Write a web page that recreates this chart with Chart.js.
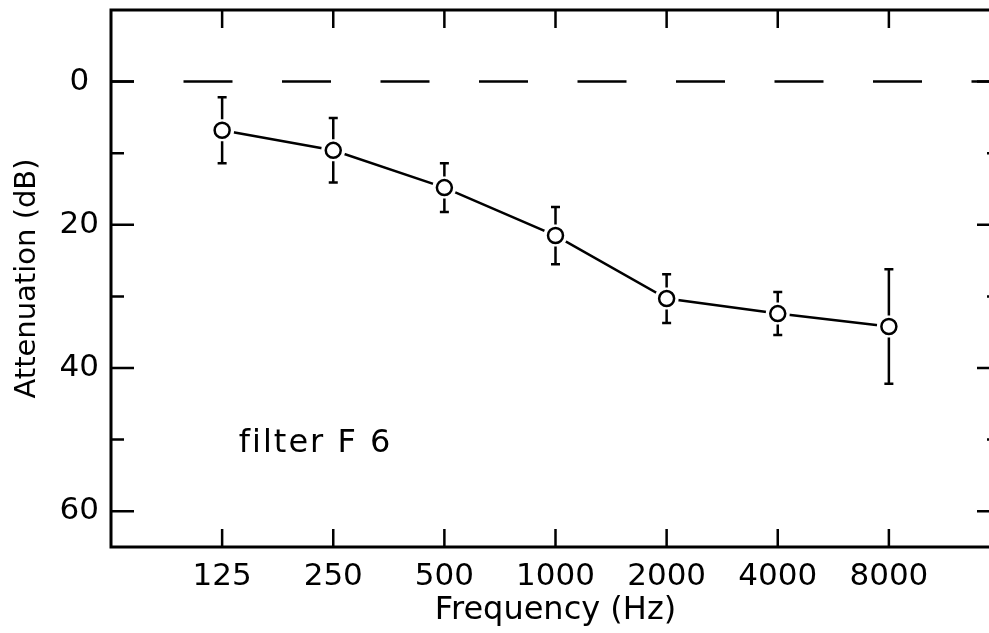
<!DOCTYPE html>
<html>
<head>
<meta charset="utf-8">
<script src="https://cdn.jsdelivr.net/npm/chart.js@4.4.1/dist/chart.umd.min.js"></script>
<style>
  html, body { margin: 0; padding: 0; background: #fff; overflow: hidden; }
</style>
</head>
<body>
<canvas id="chart" width="1002" height="633"></canvas>
<script>
// values (attenuation in dB, error bar half length in dB)
const freqLabels = ['125', '250', '500', '1000', '2000', '4000', '8000'];
const attenuation = [6.8, 9.6, 14.8, 21.5, 30.3, 32.4, 34.2];
const errorSd = [4.6, 4.5, 3.4, 4.0, 3.4, 3.0, 8.0];
const yTickLabels = [0, 20, 40, 60];
const referenceLine = [0, 0];
const filterName = 'filter F 6';

Chart.defaults.font.family = "'DejaVu Sans', sans-serif";
Chart.defaults.color = '#000';

const points = attenuation.map((v, i) => ({ x: i, y: v }));

function noPadding(s) {
  s.paddingLeft = 0;
  s.paddingRight = 0;
  s.paddingTop = 0;
  s.paddingBottom = 0;
}

// frame with inward ticks on all four sides (right edge falls just past the window)
const framePlugin = {
  id: 'frame',
  afterDraw(chart) {
    const { ctx, chartArea: a, scales: { x, y } } = chart;
    ctx.save();
    ctx.strokeStyle = '#000';
    ctx.lineWidth = 3;
    ctx.strokeRect(a.left, a.top, a.right - a.left, a.bottom - a.top);
    ctx.lineWidth = 2.5;
    ctx.beginPath();
    freqLabels.forEach((_, i) => {
      const px = x.getPixelForValue(i);
      ctx.moveTo(px, a.top);
      ctx.lineTo(px, a.top + 18);
      ctx.moveTo(px, a.bottom);
      ctx.lineTo(px, a.bottom - 18);
    });
    y.ticks.filter(t => t.value >= 0 && t.value % 10 === 0).forEach(t => {
      const len = t.value % 20 === 0 ? 23 : 13;
      const py = y.getPixelForValue(t.value);
      ctx.moveTo(a.left, py);
      ctx.lineTo(a.left + len, py);
      ctx.moveTo(a.right, py);
      ctx.lineTo(a.right - len, py);
    });
    ctx.stroke();

    // label inside the plot
    ctx.font = "32px 'DejaVu Sans'";
    ctx.letterSpacing = '2px';
    ctx.fillStyle = '#000';
    ctx.textBaseline = 'alphabetic';
    ctx.textAlign = 'left';
    ctx.fillText(filterName, x.getPixelForValue(0.15), y.getPixelForValue(51.8));
    ctx.restore();
  }
};

// vertical error bars with caps, kept clear of the open circles
const errorBarPlugin = {
  id: 'errorBars',
  afterDatasetsDraw(chart) {
    const { ctx, scales: { x, y } } = chart;
    const gap = 11;
    ctx.save();
    ctx.strokeStyle = '#000';
    ctx.lineWidth = 2.5;
    ctx.beginPath();
    attenuation.forEach((v, i) => {
      const px = x.getPixelForValue(i);
      const pc = y.getPixelForValue(v);
      const pTop = y.getPixelForValue(v - errorSd[i]);
      const pBot = y.getPixelForValue(v + errorSd[i]);
      ctx.moveTo(px, pTop);
      ctx.lineTo(px, pc - gap);
      ctx.moveTo(px, pc + gap);
      ctx.lineTo(px, pBot);
      ctx.moveTo(px - 4.5, pTop);
      ctx.lineTo(px + 4.5, pTop);
      ctx.moveTo(px - 4.5, pBot);
      ctx.lineTo(px + 4.5, pBot);
    });
    ctx.stroke();
    ctx.restore();
  }
};

const ctx = document.getElementById('chart');

new Chart(ctx, {
  type: 'line',
  data: {
    datasets: [
      {
        label: 'markers',
        data: points,
        showLine: false,
        pointRadius: 7.5,
        pointBorderWidth: 2.5,
        pointBorderColor: '#000',
        pointBackgroundColor: '#fff',
        order: 0
      },
      {
        label: 'halo',
        data: points,
        showLine: false,
        pointRadius: 12,
        pointBorderWidth: 0,
        pointBackgroundColor: '#fff',
        pointBorderColor: '#fff',
        order: 1
      },
      {
        label: 'attenuation',
        data: points,
        borderColor: '#000',
        borderWidth: 2.5,
        pointRadius: 0,
        tension: 0,
        order: 2
      },
      {
        label: 'zero',
        data: [{ x: -1, y: referenceLine[0] }, { x: 7, y: referenceLine[1] }],
        borderColor: '#000',
        borderWidth: 2.5,
        borderDash: [49, 49.5],
        borderDashOffset: 26,
        pointRadius: 0,
        order: 3
      }
    ]
  },
  options: {
    responsive: false,
    animation: false,
    layout: { autoPadding: false, padding: { top: 10, right: 2, left: 0, bottom: 0 } },
    plugins: {
      legend: { display: false },
      tooltip: { enabled: false }
    },
    scales: {
      x: {
        type: 'linear',
        min: -1,
        max: 7,
        afterFit: s => { s.height = 86; noPadding(s); },
        grid: { display: false, drawTicks: false },
        border: { display: false },
        ticks: {
          stepSize: 1,
          autoSkip: false,
          maxRotation: 0,
          padding: 11,
          font: { size: 31 },
          callback: v => freqLabels[v] ?? ''
        },
        title: {
          display: true,
          text: 'Frequency (Hz)',
          font: { size: 32 },
          padding: { top: 0, bottom: 3 }
        }
      },
      y: {
        type: 'linear',
        min: -10,
        max: 65,
        reverse: true,
        afterFit: s => { s.width = 111; noPadding(s); },
        grid: { display: false, drawTicks: false },
        border: { display: false },
        ticks: {
          stepSize: 10,
          padding: 12,
          crossAlign: 'center',
          font: { size: 31 },
          callback: v => yTickLabels.includes(v) ? v : ''
        },
        title: {
          display: true,
          text: 'Attenuation (dB)',
          font: { size: 29 },
          padding: { top: 10, bottom: 0 }
        }
      }
    }
  },
  plugins: [framePlugin, errorBarPlugin]
});
</script>
</body>
</html>
